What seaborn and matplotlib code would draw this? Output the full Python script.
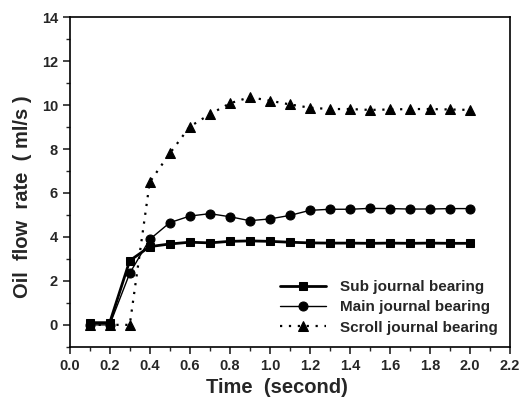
import numpy as np
import pandas as pd
import matplotlib
matplotlib.use('Agg')
import matplotlib.pyplot as plt
import seaborn as sns
from matplotlib.ticker import MultipleLocator

time_s = [0.1, 0.2, 0.3, 0.4, 0.5, 0.6, 0.7, 0.8, 0.9, 1.0,
          1.1, 1.2, 1.3, 1.4, 1.5, 1.6, 1.7, 1.8, 1.9, 2.0]
sub_bearing = [0.1, 0.1, 2.92, 3.56, 3.68, 3.76, 3.73, 3.8, 3.82, 3.8,
               3.76, 3.73, 3.72, 3.72, 3.71, 3.72, 3.71, 3.72, 3.71, 3.71]
main_bearing = [0.0, 0.0, 2.35, 3.89, 4.65, 4.95, 5.06, 4.92, 4.74, 4.82,
                4.98, 5.21, 5.26, 5.26, 5.3, 5.29, 5.27, 5.27, 5.29, 5.29]
scroll_bearing = [0.0, 0.0, 0.0, 6.5, 7.8, 9.02, 9.58, 10.08, 10.36, 10.2,
                  10.03, 9.88, 9.82, 9.82, 9.78, 9.8, 9.82, 9.82, 9.8, 9.78]

df = pd.DataFrame({'time': time_s, 'sub': sub_bearing,
                   'main': main_bearing, 'scroll': scroll_bearing})

sns.set_style('ticks')
plt.rcParams['font.family'] = ['Liberation Sans', 'DejaVu Sans']
plt.rcParams['font.weight'] = 'bold'

fig, ax = plt.subplots(figsize=(5.28, 4.09), dpi=100)
fig.subplots_adjust(left=0.132, right=0.966, top=0.958, bottom=0.152)

sns.lineplot(data=df, x='time', y='scroll', ax=ax, color='black', linestyle=(0, (1, 3)),
             linewidth=1.6, marker='^', markersize=7.5, markeredgecolor='black',
             label='Scroll journal bearing')
sns.lineplot(data=df, x='time', y='main', ax=ax, color='black', linewidth=1.0,
             marker='o', markersize=6.5, markeredgecolor='black',
             label='Main journal bearing')
sns.lineplot(data=df, x='time', y='sub', ax=ax, color='black', linewidth=2.0,
             marker='s', markersize=5.5, markeredgecolor='black',
             label='Sub journal bearing')

ax.set_xlim(0, 2.2)
ax.set_ylim(-1, 14)
ax.xaxis.set_major_locator(MultipleLocator(0.2))
ax.xaxis.set_minor_locator(MultipleLocator(0.1))
ax.yaxis.set_major_locator(MultipleLocator(2))
ax.yaxis.set_minor_locator(MultipleLocator(1))
ax.tick_params(which='major', direction='out', length=5, width=1.2, labelsize=10.5)
ax.tick_params(which='minor', direction='out', length=3, width=1.0)
for lab in ax.get_xticklabels() + ax.get_yticklabels():
    lab.set_fontweight('bold')
for sp in ax.spines.values():
    sp.set_linewidth(1.2)
    sp.set_color('black')

ax.set_xlabel('Time  (second)', fontsize=14.5, fontweight='bold')
ax.set_ylabel('Oil  flow  rate  ( ml/s )', fontsize=14.5, fontweight='bold')
ax.xaxis.set_label_coords(0.47, -0.095)
ax.yaxis.set_label_coords(-0.085, 0.455)

handles, labels = ax.get_legend_handles_labels()
ax.legend(handles[::-1], labels[::-1], loc='lower right', frameon=False,
          fontsize=11, handlelength=3.0, borderaxespad=0.4, labelspacing=0.4,
          handletextpad=0.9, bbox_to_anchor=(1.0, 0.0))

fig.savefig('out.png', dpi=100)
